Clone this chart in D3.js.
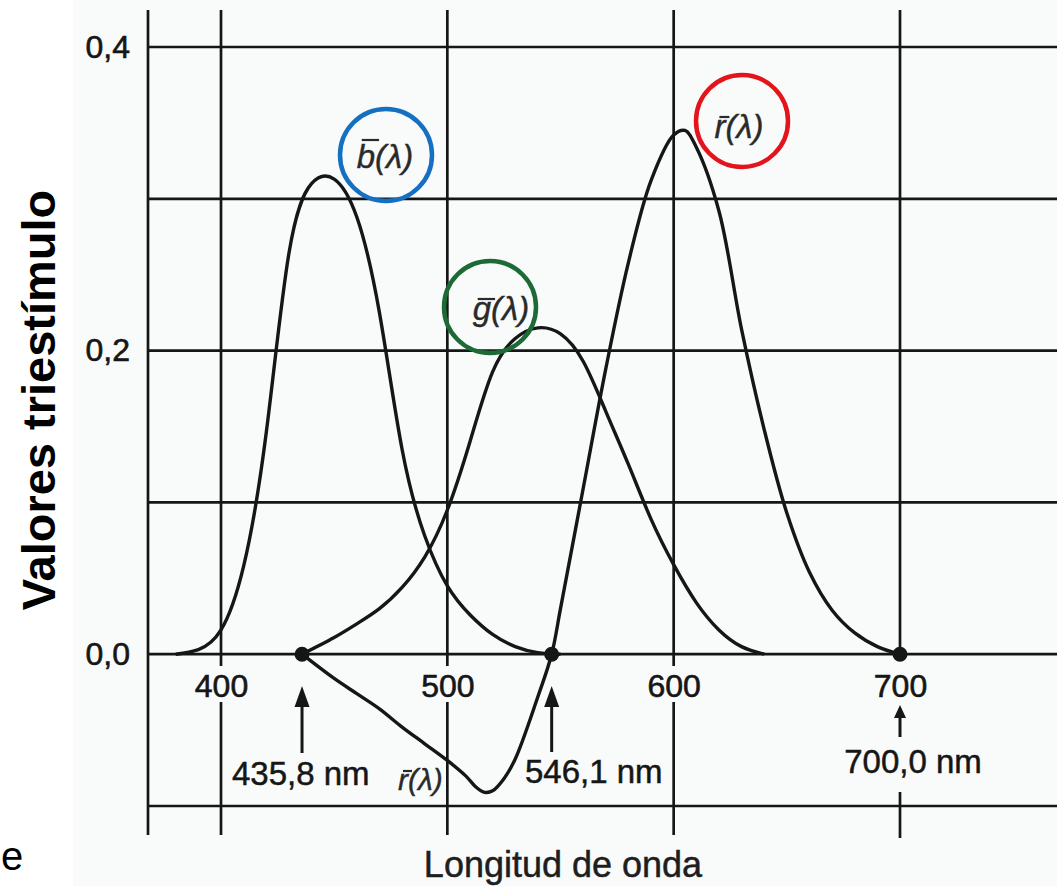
<!DOCTYPE html>
<html>
<head>
<meta charset="utf-8">
<script src="https://cdn.jsdelivr.net/npm/d3@7"></script>
<style>
  body { margin: 0; background: #fff; }
  svg { display: block; }
</style>
</head>
<body>
<div id="chart"></div>
<script>
// colour matching functions (wavelength in nm, value)
const bWave = [380, 390, 400, 410, 420, 430, 440, 450, 460, 470, 480, 490, 500, 510, 520, 530, 540, 550];
const bVals = [0, 0.003, 0.016, 0.058, 0.146, 0.264, 0.310, 0.313, 0.288, 0.225, 0.135, 0.078, 0.045, 0.026, 0.013, 0.005, 0.001, 0];

const gWave = [435.8, 450, 460, 470, 480, 490, 500, 510, 520, 530, 540, 550, 560, 570, 580, 590, 600, 610, 620, 630, 640];
const gVals = [0, 0.011, 0.020, 0.030, 0.044, 0.064, 0.095, 0.140, 0.186, 0.208, 0.215, 0.211, 0.193, 0.160, 0.125, 0.089, 0.059, 0.034, 0.016, 0.005, 0];

const rWave = [435.8, 450, 460, 470, 480, 490, 500, 508, 513, 516.5, 520, 525, 530, 540, 546.1, 550, 560, 570, 580, 590, 600, 605, 610, 620, 630, 640, 650, 660, 670, 680, 690, 700];
const rVals = [0, -0.016, -0.026, -0.036, -0.048, -0.059, -0.070, -0.080, -0.088, -0.091, -0.090, -0.082, -0.069, -0.028, 0, 0.030, 0.109, 0.188, 0.258, 0.312, 0.342, 0.345, 0.334, 0.292, 0.214, 0.148, 0.093, 0.054, 0.029, 0.014, 0.005, 0];

const xTicks = [400, 500, 600, 700];
const yTicks = [0, 0.2, 0.4];
const yGrid = [-0.1, 0, 0.1, 0.2, 0.3, 0.4];
const primaries = [435.8, 546.1, 700];
const primaryLabels = ['435,8 nm', '546,1 nm', '700,0 nm'];

const width = 1057;
const height = 886;
const ink = '#161616';

const x = d3.scaleLinear().domain([400, 700]).range([221, 900]);
const y = d3.scaleLinear().domain([-0.1, 0.4]).range([806, 47]);

const svg = d3
  .select('#chart')
  .append('svg')
  .attr('width', width)
  .attr('height', height)
  .style('font-family', 'Liberation Sans, Arial, sans-serif');

// faint scan tint
svg.append('rect').attr('x', 73).attr('y', 0).attr('width', width - 73).attr('height', height).attr('fill', '#f9fbfb');

const grid = svg.append('g').attr('stroke', ink).attr('stroke-width', 2.7);

grid
  .selectAll('line.h')
  .data(yGrid)
  .join('line')
  .attr('class', 'h')
  .attr('x1', 148)
  .attr('x2', width)
  .attr('y1', (d) => y(d))
  .attr('y2', (d) => y(d));

// left frame line
grid.append('line').attr('x1', 148).attr('x2', 148).attr('y1', 10).attr('y2', 835);

// vertical lines, broken where the labels sit
const vSegs = [];
xTicks.forEach((t) => {
  if (t === 700) {
    vSegs.push({ t, a: 10, b: y(0) }, { t, a: 792, b: 838 });
  } else {
    vSegs.push({ t, a: 10, b: 666 }, { t, a: 702, b: 835 });
  }
});
grid
  .selectAll('line.v')
  .data(vSegs)
  .join('line')
  .attr('class', 'v')
  .attr('x1', (d) => x(d.t))
  .attr('x2', (d) => x(d.t))
  .attr('y1', (d) => d.a)
  .attr('y2', (d) => d.b);

// axes (labels only)
const xAxis = svg
  .append('g')
  .attr('transform', `translate(0,${y(0)})`)
  .call(d3.axisBottom(x).tickValues(xTicks).tickSize(0).tickPadding(20).tickFormat(d3.format('d')));
const yAxis = svg
  .append('g')
  .attr('transform', 'translate(148,0)')
  .call(
    d3
      .axisLeft(y)
      .tickValues(yTicks)
      .tickSize(0)
      .tickPadding(18)
      .tickFormat((d) => d3.format('.1f')(d).replace('.', ','))
  );
[xAxis, yAxis].forEach((a) => {
  a.select('.domain').remove();
  a.attr('font-family', null).attr('font-size', null);
  a.selectAll('text')
    .attr('font-size', 32)
    .attr('fill', ink)
    .attr('stroke', ink)
    .attr('stroke-width', 0.6);
});

// curves
const series = [
  { pts: d3.zip(bWave, bVals), curve: d3.curveNatural },
  { pts: d3.zip(gWave, gVals), curve: d3.curveNatural },
  { pts: d3.zip(rWave, rVals), curve: d3.curveCatmullRom.alpha(0.5) },
];
svg
  .append('g')
  .selectAll('path')
  .data(series)
  .join('path')
  .attr('d', (s) =>
    d3
      .line()
      .x((d) => x(d[0]))
      .y((d) => y(d[1]))
      .curve(s.curve)(s.pts)
  )
  .attr('fill', 'none')
  .attr('stroke', ink)
  .attr('stroke-width', 3.4)
  .attr('stroke-linejoin', 'round');

// primary dots
svg
  .append('g')
  .selectAll('circle')
  .data(primaries)
  .join('circle')
  .attr('cx', (d) => x(d))
  .attr('cy', y(0))
  .attr('r', 7.5)
  .attr('fill', ink);

// arrows below the primaries
const arrows = [
  { w: primaries[0], tip: 686, tail: 753, head: 21, half: 7.5 },
  { w: primaries[1], tip: 686, tail: 752, head: 21, half: 7.5 },
  { w: primaries[2], tip: 705, tail: 737, head: 13, half: 6 },
];
const arrowG = svg.append('g').attr('fill', ink).attr('stroke', ink);
arrows.forEach((a) => {
  const cx = x(a.w);
  arrowG
    .append('line')
    .attr('x1', cx)
    .attr('x2', cx)
    .attr('y1', a.tip + a.head - 2)
    .attr('y2', a.tail)
    .attr('stroke-width', 3);
  arrowG
    .append('path')
    .attr('stroke', 'none')
    .attr('d', `M${cx},${a.tip}L${cx - a.half},${a.tip + a.head}L${cx + a.half},${a.tip + a.head}Z`);
});

const labelPos = [
  { x: 232, y: 785, anchor: 'start' },
  { x: 525, y: 783, anchor: 'start' },
  { x: 913, y: 773, anchor: 'middle' },
];
svg
  .append('g')
  .selectAll('text')
  .data(primaryLabels)
  .join('text')
  .attr('x', (d, i) => labelPos[i].x)
  .attr('y', (d, i) => labelPos[i].y)
  .attr('text-anchor', (d, i) => labelPos[i].anchor)
  .attr('font-size', 33)
  .attr('fill', ink)
  .attr('stroke', ink)
  .attr('stroke-width', 0.5)
  .text((d) => d);

// function labels with an overbar on the first letter
function barLabel(letter, cx, base, size, barH, anchor) {
  const t = svg
    .append('text')
    .attr('x', cx)
    .attr('y', base)
    .attr('text-anchor', anchor)
    .attr('font-size', size)
    .attr('font-style', 'italic')
    .attr('fill', '#2a2a2a')
    .attr('stroke', '#2a2a2a')
    .attr('stroke-width', 0.4)
    .text(letter + '(λ)');
  const node = t.node();
  const box = node.getBBox();
  const w = node.getSubStringLength(0, 1);
  const x0 = box.x + 1;
  svg
    .append('line')
    .attr('x1', x0 + 4)
    .attr('x2', x0 + w + 3)
    .attr('y1', base - barH)
    .attr('y2', base - barH)
    .attr('stroke', '#2a2a2a')
    .attr('stroke-width', 2.2);
}

barLabel('b', 385, 168, 33, 28, 'middle');
barLabel('g', 501, 320, 33, 21, 'middle');
barLabel('r', 739, 138, 33, 21, 'middle');
barLabel('r', 398, 790, 30, 19, 'start');

// coloured circles
const rings = [
  { cx: 386, cy: 155, color: '#1670c2' },
  { cx: 490, cy: 307, color: '#1c6a36' },
  { cx: 742, cy: 121, color: '#e3141b' },
];
svg
  .append('g')
  .selectAll('circle')
  .data(rings)
  .join('circle')
  .attr('cx', (d) => d.cx)
  .attr('cy', (d) => d.cy)
  .attr('r', 46)
  .attr('fill', 'none')
  .attr('stroke', (d) => d.color)
  .attr('stroke-width', 4.5);

// axis titles
svg
  .append('text')
  .attr('x', 563)
  .attr('y', 877)
  .attr('text-anchor', 'middle')
  .attr('font-size', 36)
  .attr('fill', '#1e1e1e')
  .attr('stroke', '#1e1e1e')
  .attr('stroke-width', 0.5)
  .text('Longitud de onda');

svg
  .append('text')
  .attr('transform', 'translate(55,400) rotate(-90)')
  .attr('text-anchor', 'middle')
  .attr('font-size', 47)
  .attr('font-weight', 'bold')
  .attr('fill', '#000')
  .text('Valores triestímulo');

svg
  .append('text')
  .attr('x', 1)
  .attr('y', 870)
  .attr('font-size', 40)
  .attr('fill', '#000')
  .text('e');
</script>
</body>
</html>
